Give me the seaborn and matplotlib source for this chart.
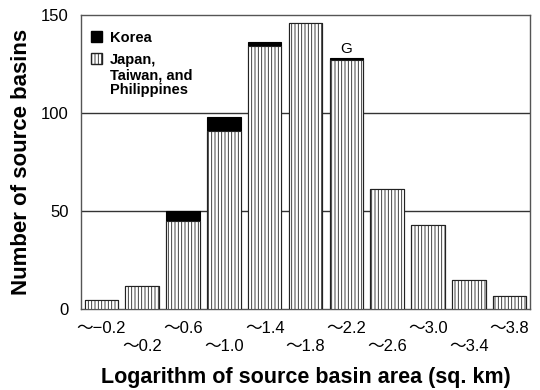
import matplotlib
matplotlib.use("Agg")
import matplotlib.pyplot as plt
import matplotlib.patches as mpatches
import seaborn as sns
import pandas as pd
import numpy as np

categories = ["−0.2", "0.2", "0.6", "1.0", "1.4", "1.8", "2.2", "2.6", "3.0", "3.4", "3.8"]
japan = [4.5, 11.5, 45, 91, 134, 146, 127, 61, 43, 15, 6.5]
korea = [0, 0, 5, 7, 2, 0, 1, 0, 0, 0, 0]

sns.set_theme(style="white")
plt.rcParams["font.family"] = ["Liberation Sans", "Noto Sans CJK JP", "DejaVu Sans"]
plt.rcParams["text.color"] = "black"
plt.rcParams["axes.labelcolor"] = "black"
plt.rcParams["xtick.color"] = "black"
plt.rcParams["ytick.color"] = "black"
plt.rcParams["hatch.linewidth"] = 0.6
plt.rcParams["hatch.color"] = "#333333"

df = pd.DataFrame({"cat": categories, "japan": japan, "korea": korea})
df["total"] = df["japan"] + df["korea"]

fig = plt.figure(figsize=(5.4, 3.9), dpi=100)
ax = fig.add_axes([0.15, 0.2077, 0.8315, 0.7538])

for y in (50, 100):
    ax.axhline(y, color="#333333", lw=1.0, zorder=0)

sns.barplot(data=df, x="cat", y="total", color="black", saturation=1,
            width=0.82, edgecolor="black", linewidth=0.8, ax=ax, zorder=2)
sns.barplot(data=df, x="cat", y="japan", color="white", saturation=1,
            width=0.82, edgecolor="#222222", linewidth=0.8, hatch="|||||",
            ax=ax, zorder=3)

ax.set_xlim(-0.5, len(categories) - 0.5)
ax.set_ylim(0, 150)
ax.set_yticks([0, 50, 100, 150])
ax.set_yticklabels(["0", "50", "100", "150"], fontsize=12)

labels = []
for i, c in enumerate(categories):
    t = "〜" + c
    labels.append(t if i % 2 == 0 else "\n" + t)
ax.set_xticks(range(len(categories)))
ax.set_xticklabels(labels, fontsize=12, linespacing=1.25)
ax.tick_params(axis="x", length=0, pad=9)
ax.tick_params(axis="y", length=0, pad=9)

for s in ax.spines.values():
    s.set_color("#555555")
    s.set_linewidth(1.0)

ax.set_xlabel("Logarithm of source basin area (sq. km)", fontsize=15.5,
              fontweight="bold", labelpad=9)
ax.set_ylabel("Number of source basins", fontsize=16, fontweight="bold",
              labelpad=6)

ax.text(6, df["total"][6] + 1.0, "G", ha="center", va="bottom", fontsize=11)

h1 = mpatches.Patch(facecolor="black", edgecolor="black", label="Korea")
h2 = mpatches.Patch(facecolor="white", edgecolor="#222222", hatch="|||||",
                    label="Japan,\nTaiwan, and\nPhilippines")
leg = ax.legend(handles=[h1, h2], loc="upper left", bbox_to_anchor=(0.022, 0.945),
                frameon=False, prop={"weight": "bold", "size": 10.5},
                handlelength=0.75, handleheight=0.75, handletextpad=0.55,
                labelspacing=0.55, borderpad=0, borderaxespad=0)
for col in leg._legend_handle_box.get_children():
    for row in col.get_children():
        row.align = "top"
for t in leg.get_texts():
    t.set_linespacing(1.1)

fig.savefig("out.png", dpi=100)
